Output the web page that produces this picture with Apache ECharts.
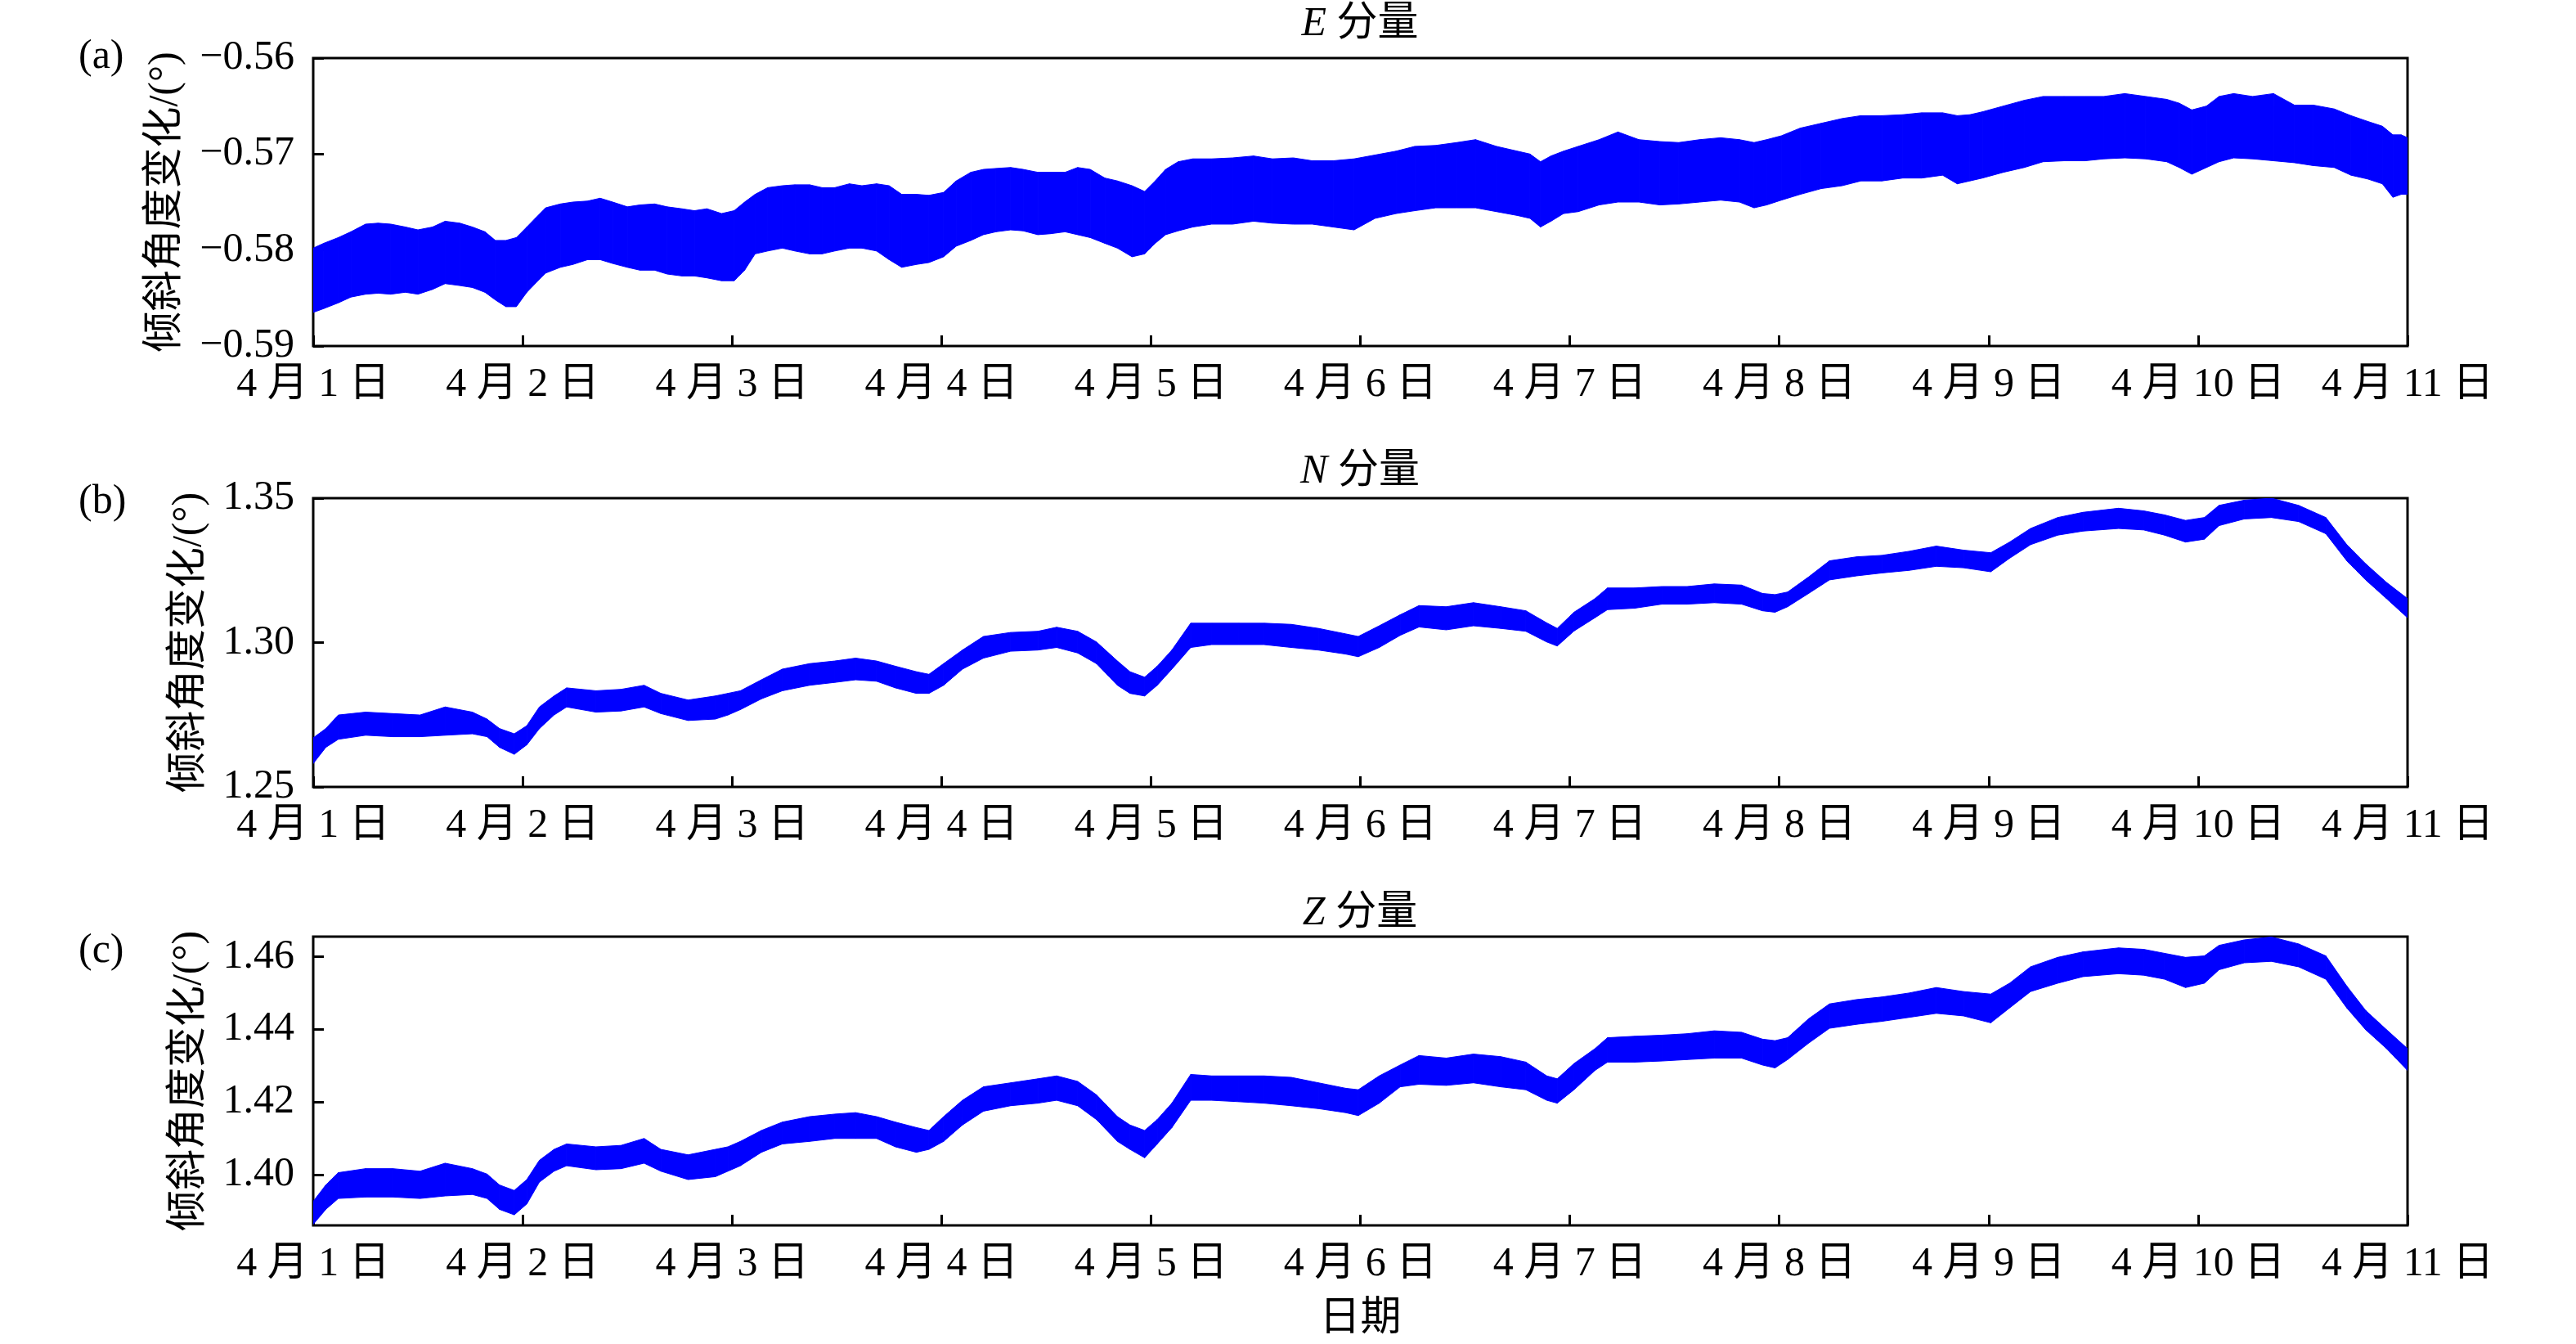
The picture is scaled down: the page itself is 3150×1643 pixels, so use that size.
<!DOCTYPE html>
<html>
<head>
<meta charset="utf-8">
<script src="https://cdn.jsdelivr.net/npm/echarts@6.0.0/dist/echarts.min.js"></script>
<style>
html,body{margin:0;padding:0;background:#fff;}
#chart{width:3150px;height:1643px;}
</style>
</head>
<body>
<div id="chart"></div>
<script>
// ---------------- data ----------------
const dayLabels = ['4 月 1 日','4 月 2 日','4 月 3 日','4 月 4 日','4 月 5 日','4 月 6 日','4 月 7 日','4 月 8 日','4 月 9 日','4 月 10 日','4 月 11 日'];
const dayTicks = [0,1,2,3,4,5,6,7,8,9,10];

const eTicks = [-0.59,-0.58,-0.57,-0.56];
const nTicks = [1.25,1.30,1.35];
const zTicks = [1.40,1.42,1.44,1.46];
const eRange = [-0.59,-0.56];
const nRange = [1.25,1.35];
const zRange = [1.3861,1.4655];

const panelTitles = ['E','N','Z'];
const panelTags = ['(a)','(b)','(c)'];

// E component: time (days since 4/1 00:00), upper & lower edge of the band
const daysE = [
 0.00,0.05,0.12,0.18,0.25,0.31,0.37,0.44,0.50,0.57,
 0.63,0.70,0.76,0.82,0.87,0.92,0.97,1.02,1.06,1.11,
 1.18,1.24,1.31,1.37,1.43,1.50,1.56,1.63,1.69,1.76,
 1.82,1.88,1.95,2.01,2.06,2.11,2.17,2.24,2.30,2.37,
 2.43,2.49,2.56,2.62,2.69,2.75,2.81,2.88,2.94,3.01,
 3.07,3.14,3.20,3.26,3.33,3.39,3.46,3.52,3.59,3.65,
 3.71,3.78,3.84,3.91,3.97,4.02,4.07,4.13,4.20,4.29,
 4.39,4.49,4.58,4.68,4.77,4.87,4.97,
 5.07,5.17,5.26,5.36,5.46,5.55,5.65,5.75,5.81,5.86,
 5.91,5.97,6.04,6.14,6.23,6.33,6.43,6.52,6.62,6.72,
 6.81,6.88,6.94,7.01,7.10,7.20,7.30,7.39,7.49,7.59,
 7.68,7.78,7.85,7.91,7.97,8.07,8.17,8.26,8.36,8.46,
 8.55,8.65,8.75,8.85,8.91,8.97,9.04,9.10,9.17,9.26,
 9.36,9.46,9.55,9.65,9.73,9.81,9.88,9.93,9.97,10.00
];
const eUpper = [
 -0.5798,-0.5793,-0.5787,-0.5781,-0.5773,-0.5772,-0.5773,-0.5776,-0.5779,-0.5776,
 -0.5770,-0.5772,-0.5776,-0.5781,-0.5790,-0.5790,-0.5787,-0.5776,-0.5767,-0.5756,
 -0.5752,-0.5750,-0.5749,-0.5746,-0.5750,-0.5755,-0.5753,-0.5752,-0.5755,-0.5757,
 -0.5759,-0.5757,-0.5762,-0.5759,-0.5750,-0.5742,-0.5735,-0.5733,-0.5732,-0.5732,
 -0.5735,-0.5735,-0.5731,-0.5733,-0.5731,-0.5733,-0.5742,-0.5742,-0.5743,-0.5740,
 -0.5728,-0.5719,-0.5716,-0.5715,-0.5714,-0.5716,-0.5719,-0.5719,-0.5719,-0.5714,
 -0.5716,-0.5725,-0.5728,-0.5733,-0.5739,-0.5728,-0.5716,-0.5708,-0.5705,-0.5705,
 -0.5704,-0.5702,-0.5705,-0.5704,-0.5707,-0.5707,-0.5705,
 -0.5701,-0.5697,-0.5692,-0.5691,-0.5688,-0.5685,-0.5692,-0.5697,-0.5700,-0.5708,
 -0.5702,-0.5697,-0.5692,-0.5685,-0.5677,-0.5685,-0.5687,-0.5688,-0.5685,-0.5683,
 -0.5685,-0.5688,-0.5685,-0.5681,-0.5673,-0.5668,-0.5663,-0.5660,-0.5660,-0.5659,
 -0.5657,-0.5657,-0.5660,-0.5659,-0.5656,-0.5650,-0.5644,-0.5640,-0.5640,-0.5640,
 -0.5640,-0.5637,-0.5640,-0.5643,-0.5647,-0.5654,-0.5650,-0.5640,-0.5637,-0.5640,
 -0.5637,-0.5649,-0.5649,-0.5653,-0.5660,-0.5666,-0.5671,-0.5680,-0.5680,-0.5683
];
const eLower = [
 -0.5865,-0.5861,-0.5855,-0.5849,-0.5846,-0.5845,-0.5846,-0.5844,-0.5846,-0.5841,
 -0.5835,-0.5837,-0.5839,-0.5844,-0.5852,-0.5859,-0.5859,-0.5844,-0.5835,-0.5824,
 -0.5818,-0.5815,-0.5810,-0.5810,-0.5814,-0.5818,-0.5821,-0.5821,-0.5825,-0.5827,
 -0.5827,-0.5829,-0.5832,-0.5832,-0.5821,-0.5804,-0.5801,-0.5798,-0.5801,-0.5804,
 -0.5804,-0.5801,-0.5798,-0.5798,-0.5801,-0.5810,-0.5818,-0.5815,-0.5813,-0.5807,
 -0.5796,-0.5790,-0.5784,-0.5781,-0.5779,-0.5780,-0.5784,-0.5783,-0.5781,-0.5784,
 -0.5787,-0.5793,-0.5798,-0.5807,-0.5804,-0.5793,-0.5784,-0.5780,-0.5776,-0.5773,
 -0.5773,-0.5770,-0.5772,-0.5773,-0.5773,-0.5776,-0.5779,
 -0.5767,-0.5762,-0.5759,-0.5756,-0.5756,-0.5756,-0.5760,-0.5764,-0.5767,-0.5776,
 -0.5770,-0.5762,-0.5760,-0.5753,-0.5750,-0.5750,-0.5753,-0.5752,-0.5750,-0.5748,
 -0.5750,-0.5756,-0.5753,-0.5748,-0.5742,-0.5736,-0.5733,-0.5728,-0.5728,-0.5725,
 -0.5725,-0.5722,-0.5731,-0.5728,-0.5725,-0.5719,-0.5714,-0.5708,-0.5707,-0.5707,
 -0.5705,-0.5704,-0.5705,-0.5708,-0.5714,-0.5721,-0.5714,-0.5708,-0.5704,-0.5705,
 -0.5707,-0.5709,-0.5712,-0.5714,-0.5722,-0.5726,-0.5731,-0.5745,-0.5742,-0.5742
];

// N and Z components share the same reading positions
const daysNZ = [
 0.00,0.06,0.12,0.25,0.38,0.51,0.63,0.76,0.83,0.89,
 0.96,1.02,1.08,1.15,1.21,1.35,1.47,1.58,1.66,1.79,
 1.92,1.98,2.04,2.14,2.24,2.37,2.49,2.59,2.69,2.78,
 2.88,2.94,3.01,3.10,3.20,3.33,3.46,3.55,3.65,3.74,
 3.84,3.90,3.97,4.03,4.10,4.19,4.29,4.42,4.54,4.67,
 4.80,4.93,4.99,5.09,5.19,5.28,5.41,5.54,5.67,5.79,
 5.89,5.94,6.02,6.12,6.18,6.31,6.44,6.56,6.69,6.82,
 6.92,6.98,7.04,7.14,7.24,7.37,7.49,7.62,7.75,7.88,
 8.01,8.10,8.20,8.33,8.45,8.62,8.74,8.84,8.94,9.03,
 9.10,9.22,9.35,9.48,9.61,9.71,9.80,9.90,10.00
];
const nUpper = [
 1.2670,1.2702,1.2749,1.2759,1.2754,1.2749,1.2777,1.2759,1.2735,1.2702,
 1.2684,1.2712,1.2777,1.2815,1.2843,1.2833,1.2838,1.2852,1.2824,1.2801,
 1.2815,1.2824,1.2833,1.2871,1.2908,1.2927,1.2936,1.2946,1.2936,1.2918,
 1.2899,1.2890,1.2927,1.2974,1.3021,1.3035,1.3039,1.3053,1.3039,1.3002,
 1.2936,1.2899,1.2880,1.2918,1.2974,1.3067,1.3067,1.3067,1.3067,1.3063,
 1.3049,1.3030,1.3021,1.3058,1.3096,1.3128,1.3124,1.3138,1.3124,1.3110,
 1.3068,1.3049,1.3105,1.3152,1.3189,1.3189,1.3194,1.3194,1.3203,1.3199,
 1.3170,1.3166,1.3175,1.3227,1.3283,1.3297,1.3302,1.3316,1.3334,1.3320,
 1.3311,1.3348,1.3395,1.3433,1.3451,1.3465,1.3456,1.3442,1.3423,1.3433,
 1.3475,1.3493,1.3500,1.3475,1.3433,1.3339,1.3273,1.3208,1.3152
];
const nLower = [
 1.2581,1.2637,1.2665,1.2679,1.2674,1.2674,1.2679,1.2684,1.2674,1.2637,
 1.2613,1.2646,1.2702,1.2749,1.2777,1.2759,1.2763,1.2777,1.2754,1.2730,
 1.2735,1.2749,1.2768,1.2805,1.2833,1.2852,1.2862,1.2871,1.2866,1.2843,
 1.2824,1.2824,1.2852,1.2908,1.2946,1.2970,1.2974,1.2983,1.2964,1.2927,
 1.2852,1.2824,1.2815,1.2852,1.2908,1.2983,1.2993,1.2993,1.2993,1.2983,
 1.2974,1.2960,1.2951,1.2983,1.3025,1.3054,1.3044,1.3058,1.3049,1.3039,
 1.3002,1.2988,1.3040,1.3086,1.3114,1.3119,1.3133,1.3133,1.3138,1.3133,
 1.3110,1.3105,1.3124,1.3170,1.3217,1.3231,1.3241,1.3250,1.3264,1.3259,
 1.3245,1.3292,1.3339,1.3372,1.3386,1.3395,1.3390,1.3372,1.3348,1.3358,
 1.3405,1.3428,1.3433,1.3419,1.3377,1.3283,1.3217,1.3152,1.3086
];
const zUpper = [
 1.3927,1.3972,1.4006,1.4017,1.4017,1.4010,1.4032,1.4017,1.4002,1.3972,
 1.3957,1.3987,1.4040,1.4070,1.4085,1.4077,1.4081,1.4100,1.4070,1.4055,
 1.4070,1.4077,1.4092,1.4122,1.4145,1.4160,1.4167,1.4171,1.4160,1.4145,
 1.4130,1.4122,1.4160,1.4205,1.4242,1.4253,1.4264,1.4272,1.4257,1.4220,
 1.4160,1.4137,1.4122,1.4152,1.4197,1.4276,1.4272,1.4272,1.4272,1.4268,
 1.4253,1.4238,1.4234,1.4272,1.4302,1.4328,1.4321,1.4332,1.4325,1.4310,
 1.4272,1.4264,1.4306,1.4347,1.4377,1.4381,1.4384,1.4388,1.4396,1.4392,
 1.4373,1.4369,1.4377,1.4429,1.4470,1.4482,1.4489,1.4500,1.4515,1.4504,
 1.4497,1.4527,1.4572,1.4598,1.4613,1.4624,1.4620,1.4609,1.4598,1.4602,
 1.4631,1.4646,1.4654,1.4635,1.4602,1.4519,1.4452,1.4399,1.4347
];
const zLower = [
 1.3864,1.3905,1.3935,1.3939,1.3939,1.3935,1.3942,1.3946,1.3935,1.3905,
 1.3890,1.3920,1.3980,1.4010,1.4025,1.4014,1.4017,1.4032,1.4010,1.3987,
 1.3995,1.4010,1.4025,1.4062,1.4085,1.4092,1.4100,1.4100,1.4100,1.4077,
 1.4062,1.4070,1.4092,1.4137,1.4175,1.4190,1.4197,1.4205,1.4190,1.4152,
 1.4092,1.4070,1.4047,1.4085,1.4130,1.4205,1.4205,1.4201,1.4197,1.4190,
 1.4182,1.4171,1.4163,1.4197,1.4242,1.4249,1.4246,1.4253,1.4242,1.4234,
 1.4205,1.4197,1.4234,1.4287,1.4310,1.4310,1.4313,1.4317,1.4321,1.4321,
 1.4302,1.4294,1.4317,1.4362,1.4403,1.4414,1.4422,1.4433,1.4444,1.4437,
 1.4418,1.4459,1.4504,1.4527,1.4545,1.4553,1.4549,1.4538,1.4515,1.4527,
 1.4564,1.4583,1.4587,1.4572,1.4538,1.4459,1.4399,1.4347,1.4287
];

// ---------------- chart ----------------
const FONT = "'Liberation Serif', 'Noto Sans CJK SC', serif";
const BLUE = '#0000ff';
const yName = '倾斜角度变化/(°)';

const gridBoxes = [
  {left: 383, top: 71,   width: 2561, height: 352},
  {left: 383, top: 609,  width: 2561, height: 353},
  {left: 383, top: 1145, width: 2561, height: 353}
];
const titleCenterY = [30, 577, 1117];
const tagCenterY = [70, 614, 1163];
const yNameGaps = [155, 126, 126];

const fmtSigned = v => v.toFixed(2).replace('-', '\u2212');

function xAxisFor(i) {
  const ax = {
    gridIndex: i, type: 'value', min: 0, max: 10,
    axisLine: {show: false, onZero: false},
    splitLine: {show: false},
    axisTick: {show: true, inside: true, length: 13, customValues: dayTicks,
               lineStyle: {color: '#000', width: 3}},
    axisLabel: {show: true, margin: 23, customValues: dayTicks,
                formatter: v => dayLabels[Math.round(v)],
                fontSize: 50, fontFamily: FONT, color: '#000'}
  };
  if (i === 2) {
    ax.name = '日期';
    ax.nameLocation = 'middle';
    ax.nameGap = 90;
    ax.nameTextStyle = {fontSize: 50, fontFamily: FONT, color: '#000'};
  }
  return ax;
}
function yAxisFor(i, range, ticks) {
  return {
    gridIndex: i, type: 'value', min: range[0], max: range[1],
    axisLine: {show: false, onZero: false},
    splitLine: {show: false},
    axisTick: {show: true, inside: true, length: 13, customValues: ticks,
               lineStyle: {color: '#000', width: 3}},
    axisLabel: {show: true, margin: 23, customValues: ticks,
                formatter: fmtSigned,
                fontSize: 50, fontFamily: FONT, color: '#000'},
    name: yName, nameLocation: 'middle', nameRotate: 90, nameGap: yNameGaps[i],
    nameTextStyle: {fontSize: 50, fontFamily: FONT, color: '#000'}
  };
}
// Each item is one segment of the band: [x0, low0, high0, x1, low1, high1]
function bandSeries(i, days, lower, upper) {
  const segs = [];
  for (let k = 0; k < days.length - 1; k++) {
    segs.push([days[k], lower[k], upper[k], days[k + 1], lower[k + 1], upper[k + 1]]);
  }
  return {
    type: 'custom', xAxisIndex: i, yAxisIndex: i, silent: true, clip: true,
    encode: {x: [0, 3], y: [1, 2, 4, 5]},
    data: segs,
    renderItem: function (params, api) {
      const pts = [
        api.coord([api.value(0), api.value(2)]),
        api.coord([api.value(3), api.value(5)]),
        api.coord([api.value(3), api.value(4)]),
        api.coord([api.value(0), api.value(1)])
      ];
      return {type: 'polygon', shape: {points: pts},
              style: {fill: BLUE, stroke: BLUE, lineWidth: 1, lineJoin: 'round'}};
    }
  };
}

const graphics = [];
for (let i = 0; i < 3; i++) {
  graphics.push({
    type: 'text', x: 1663, y: titleCenterY[i], silent: true,
    style: {
      text: '{it|' + panelTitles[i] + '} 分量',
      align: 'center', verticalAlign: 'middle',
      fontSize: 50, fontFamily: FONT, fill: '#000',
      rich: {it: {fontStyle: 'italic', fontSize: 50, fontFamily: FONT, fill: '#000'}}
    }
  });
  graphics.push({
    type: 'text', x: 96, y: tagCenterY[i], silent: true,
    style: {text: panelTags[i], align: 'left', verticalAlign: 'middle',
            fontSize: 50, fontFamily: FONT, fill: '#000'}
  });
}

const option = {
  backgroundColor: '#fff',
  animation: false,
  grid: gridBoxes.map(g => Object.assign({show: true, borderColor: '#000', borderWidth: 3,
                                          backgroundColor: 'transparent', containLabel: false}, g)),
  xAxis: [xAxisFor(0), xAxisFor(1), xAxisFor(2)],
  yAxis: [yAxisFor(0, eRange, eTicks), yAxisFor(1, nRange, nTicks), yAxisFor(2, zRange, zTicks)],
  series: [
    bandSeries(0, daysE, eLower, eUpper),
    bandSeries(1, daysNZ, nLower, nUpper),
    bandSeries(2, daysNZ, zLower, zUpper)
  ],
  graphic: graphics
};

const chart = echarts.init(document.getElementById('chart'), null, {renderer: 'canvas', width: 3150, height: 1643});
chart.setOption(option);
</script>
</body>
</html>
